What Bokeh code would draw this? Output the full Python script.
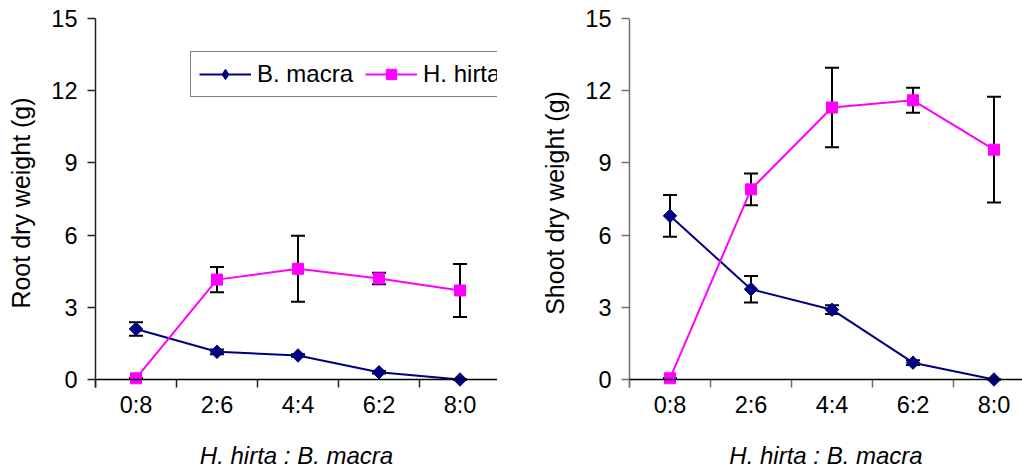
import numpy as np
from bokeh.plotting import figure
from bokeh.models import (ColumnDataSource, Whisker, TeeHead, FixedTicker, Span,
                          Legend, LegendItem, Range1d)
from bokeh.layouts import row
from bokeh.embed import file_html
from bokeh.resources import INLINE

# ---------------- data ----------------
categories = ["0:8", "2:6", "4:4", "6:2", "8:0"]
y_ticks = [0, 3, 6, 9, 12, 15]

root_macra = [2.1, 1.15, 1.0, 0.3, 0.0]
root_macra_err = [0.28, 0.1, 0.05, 0.05, 0.0]
root_hirta = [0.05, 4.15, 4.6, 4.2, 3.7]
root_hirta_err = [0.0, 0.52, 1.37, 0.24, 1.1]

shoot_macra = [6.8, 3.75, 2.9, 0.7, 0.0]
shoot_macra_err = [0.87, 0.55, 0.18, 0.1, 0.0]
shoot_hirta = [0.05, 7.9, 11.3, 11.6, 9.55]
shoot_hirta_err = [0.0, 0.66, 1.65, 0.52, 2.2]

FONT = "Liberation Sans"
NAVY = "#000080"
MAGENTA = "#FF00FF"
PX_PER_CAT = 81.0
PX_PER_Y = (379 - 18) / 15.0


def make(ylabel, macra, macra_err, hirta, hirta_err, width, border_left,
         axis_color, with_legend):
    frame_w = width - border_left
    x_end = -0.5 + frame_w / PX_PER_CAT
    p = figure(width=width, height=471, output_backend="svg", toolbar_location=None,
               x_range=Range1d(-0.5, x_end), y_range=Range1d(-8 / PX_PER_Y, 15),
               min_border_left=border_left, min_border_right=0,
               min_border_top=18, min_border_bottom=84)
    p.grid.visible = False
    p.outline_line_color = None
    p.background_fill_color = "white"
    p.border_fill_color = "white"

    xs = list(range(len(categories)))

    # x axis: labels at centres, tick marks (minor) at category boundaries
    xa = p.xaxis[0]
    xa.ticker = FixedTicker(ticks=xs, minor_ticks=[i - 0.5 for i in range(len(categories) + 1)])
    xa.major_label_overrides = {i: c for i, c in enumerate(categories)}
    xa.axis_line_color = None
    xa.major_tick_in = 0
    xa.major_tick_out = 0
    xa.minor_tick_in = 8
    xa.minor_tick_out = 0
    xa.minor_tick_line_color = axis_color
    xa.minor_tick_line_width = 1.5
    xa.major_label_text_font = FONT
    xa.major_label_text_font_size = "23.5px"
    xa.major_label_text_color = "black"
    xa.major_label_standoff = 4
    xa.axis_label = "H. hirta : B. macra"
    xa.axis_label_text_font = FONT
    xa.axis_label_text_font_size = "24px"
    xa.axis_label_text_font_style = "italic"
    xa.axis_label_text_color = "black"
    xa.axis_label_standoff = 21

    ya = p.yaxis[0]
    ya.ticker = FixedTicker(ticks=y_ticks, minor_ticks=[])
    ya.axis_line_color = axis_color
    ya.axis_line_width = 1.5
    ya.major_tick_line_color = axis_color
    ya.major_tick_line_width = 1.5
    ya.major_tick_in = 0
    ya.major_tick_out = 8
    ya.minor_tick_line_color = None
    ya.major_label_text_font = FONT
    ya.major_label_text_font_size = "23.5px"
    ya.major_label_text_color = "black"
    ya.major_label_standoff = 10
    ya.axis_label = ylabel
    ya.axis_label_text_font = FONT
    ya.axis_label_text_font_size = "25px"
    ya.axis_label_text_font_style = "normal"
    ya.axis_label_text_color = "black"
    ya.axis_label_standoff = 13

    # x axis line at y = 0
    p.add_layout(Span(location=0, dimension="width", line_color="black", line_width=1.5))

    # error bars
    for vals, errs in ((macra, macra_err), (hirta, hirta_err)):
        src = ColumnDataSource(dict(
            x=xs,
            upper=[v + e for v, e in zip(vals, errs)],
            lower=[v - e for v, e in zip(vals, errs)],
        ))
        w = Whisker(base="x", upper="upper", lower="lower", source=src,
                    dimension="height", line_color="black", line_width=2,
                    upper_head=TeeHead(size=14, line_color="black", line_width=2),
                    lower_head=TeeHead(size=14, line_color="black", line_width=2))
        p.add_layout(w)

    lm = p.line(xs, macra, line_color=NAVY, line_width=2)
    # diamond marker (used as legend swatch; hidden under the larger markers below)
    dm = p.scatter(xs, macra, marker="diamond", size=12,
                   fill_color=NAVY, line_color=NAVY, line_width=1)
    sm = p.scatter(xs, macra, marker="square", size=9.5, angle=np.pi / 4,
                   fill_color=NAVY, line_color=NAVY)
    lh = p.line(xs, hirta, line_color=MAGENTA, line_width=2)
    sh = p.scatter(xs, hirta, marker="square", size=11,
                   fill_color=MAGENTA, line_color=MAGENTA)

    if with_legend:
        frame_h = 471 - 18 - 84
        leg = Legend(items=[LegendItem(label="B. macra", renderers=[lm, dm]),
                            LegendItem(label="H. hirta", renderers=[lh, sh])],
                     orientation="horizontal",
                     location=(95, frame_h - 36 - 43),
                     glyph_width=52, glyph_height=26, label_standoff=6,
                     spacing=12, padding=8, margin=0,
                     border_line_color="black", border_line_width=1.5,
                     background_fill_color="white", background_fill_alpha=1,
                     label_text_font=FONT, label_text_font_size="24px",
                     label_text_color="black")
        p.add_layout(leg)
    return p


p1 = make("Root dry weight (g)", root_macra, root_macra_err, root_hirta, root_hirta_err,
          width=497, border_left=95, axis_color="#202020", with_legend=True)
p2 = make("Shoot dry weight (g)", shoot_macra, shoot_macra_err, shoot_hirta, shoot_hirta_err,
          width=525, border_left=132, axis_color="#707070", with_legend=False)

layout = row(p1, p2, spacing=0)
open("out.html", "w").write(file_html(layout, INLINE))
